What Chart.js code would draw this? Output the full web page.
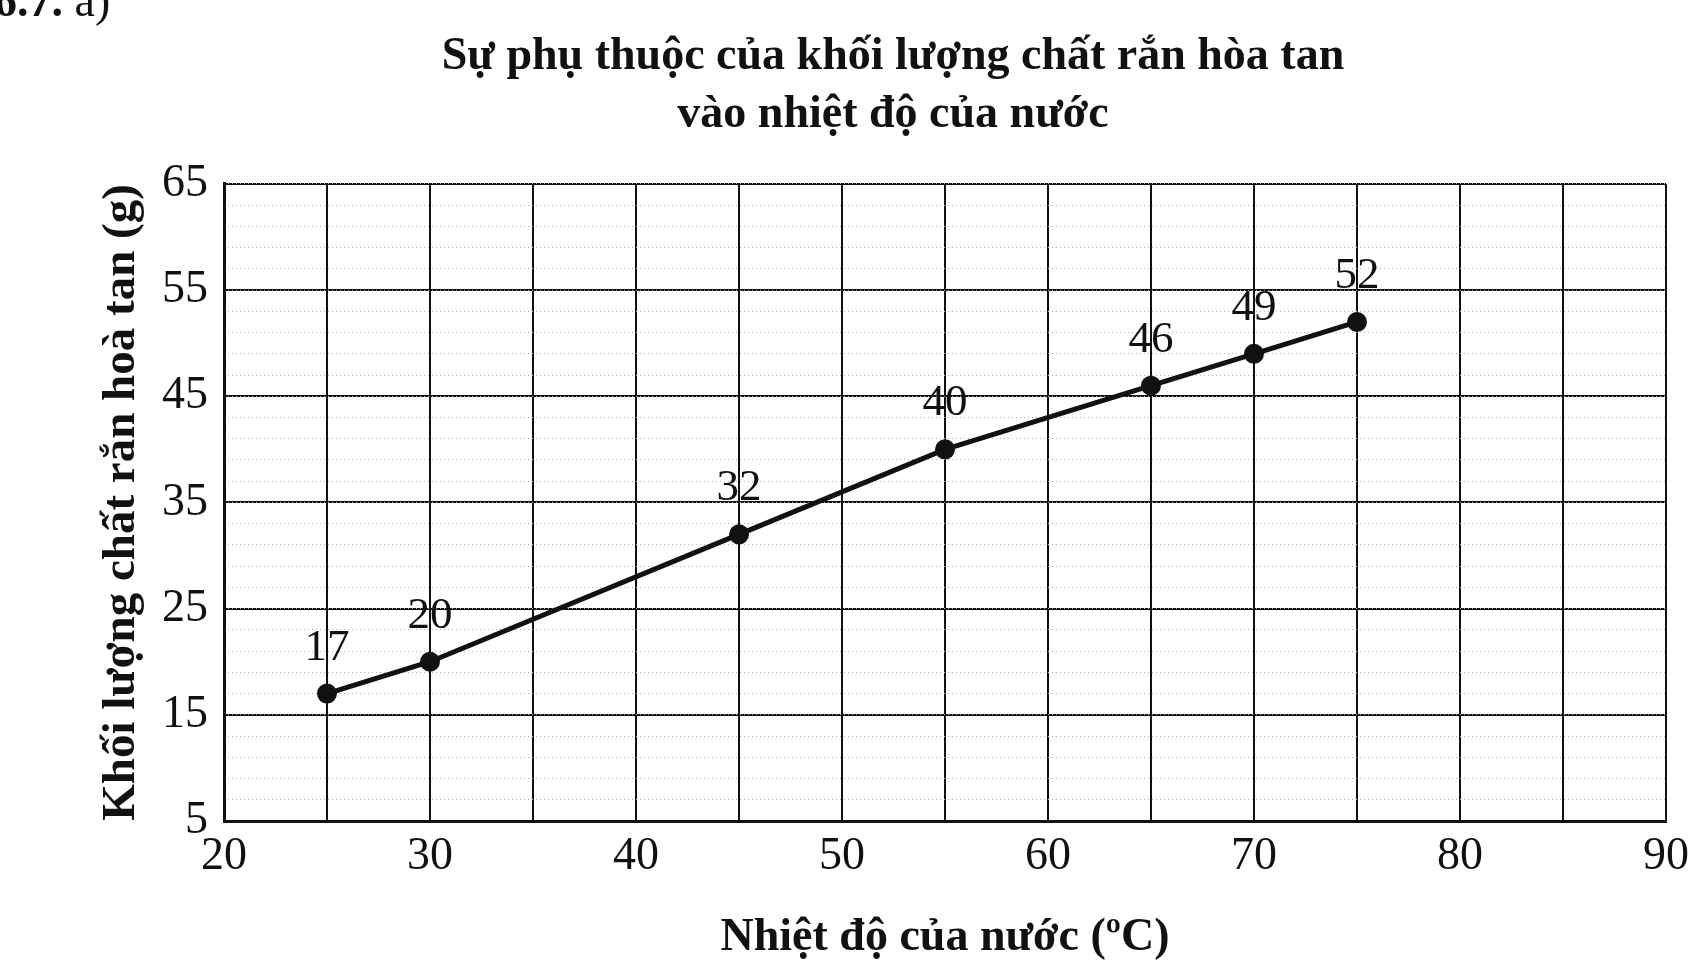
<!DOCTYPE html>
<html>
<head>
<meta charset="utf-8">
<script src="https://cdn.jsdelivr.net/npm/chart.js@4"></script>
<style>
  html, body { margin: 0; padding: 0; background: #fff; }
  #wrap { position: relative; width: 1704px; height: 972px; overflow: hidden; }
  #num { position: absolute; left: -6px; top: -26px; font: 46px "Liberation Serif", serif; color: #111; }
  #num b { font-weight: bold; }
</style>
</head>
<body>
<div id="wrap">
  <div id="num"><b>6.7.</b> a)</div>
  <canvas id="chart" width="1704" height="972"></canvas>
</div>
<script>
// số liệu
const temps = [25, 30, 45, 55, 65, 70, 75];
const mass = [17, 20, 32, 40, 46, 49, 52];
const yTickValues = [5, 15, 25, 35, 45, 55, 65];
const xMin = 20, xMax = 90;

const titleLines = ['Sự phụ thuộc của khối lượng chất rắn hòa tan', 'vào nhiệt độ của nước'];
const xTitle = 'Nhiệt độ của nước (ºC)';
const yTitle = 'Khối lượng chất rắn hoà tan (g)';

const serif = '"Liberation Serif", "Times New Roman", serif';

// nhãn số trên từng điểm
const pointLabels = {
  id: 'pointLabels',
  afterDatasetsDraw(chart) {
    const ctx = chart.ctx;
    const meta = chart.getDatasetMeta(0);
    ctx.save();
    ctx.font = '45px ' + serif;
    ctx.fillStyle = '#111';
    ctx.textAlign = 'center';
    ctx.textBaseline = 'alphabetic';
    meta.data.forEach((pt, i) => {
      ctx.fillText(String(mass[i]), pt.x, pt.y - 34);
    });
    ctx.restore();
  }
};

new Chart(document.getElementById('chart'), {
  type: 'scatter',
  data: {
    datasets: [{
      data: temps.map((t, i) => ({ x: t, y: mass[i] })),
      showLine: true,
      borderColor: '#111',
      borderWidth: 5,
      backgroundColor: '#111',
      pointRadius: 10,
      pointBorderWidth: 0,
      tension: 0
    }]
  },
  options: {
    responsive: false,
    animation: false,
    layout: { padding: { left: 120, right: 38, top: 0, bottom: 0 } },
    plugins: {
      legend: { display: false },
      tooltip: { enabled: false },
      title: {
        display: true,
        text: titleLines,
        color: '#111',
        font: { family: serif, size: 46, weight: 'bold', lineHeight: 1.26 },
        padding: { top: 28, bottom: 40 }
      }
    },
    scales: {
      x: {
        type: 'linear',
        min: xMin,
        max: xMax,
        ticks: {
          stepSize: 5,
          color: '#111',
          font: { family: serif, size: 46 },
          padding: 8,
          maxRotation: 0,
          autoSkip: false,
          callback: v => (v % 10 === 0 ? String(v) : '')
        },
        grid: { color: '#111', lineWidth: 2, drawTicks: false },
        border: { color: '#111', width: 3 },
        title: {
          display: true,
          text: xTitle,
          color: '#111',
          font: { family: serif, size: 46, weight: 'bold' },
          padding: { top: 0, bottom: 6 }
        },
        afterFit: s => { s.height = 151; }
      },
      y: {
        type: 'linear',
        position: 'left',
        min: 5,
        max: 65,
        afterBuildTicks: s => { s.ticks = yTickValues.map(v => ({ value: v })); },
        ticks: {
          color: '#111',
          font: { family: serif, size: 46 },
          padding: 16
        },
        grid: { color: '#111', lineWidth: 2, drawTicks: false },
        border: { color: '#111', width: 3 },
        title: {
          display: true,
          text: yTitle,
          color: '#111',
          font: { family: serif, size: 47, weight: 'bold' },
          padding: { top: -26, bottom: 0 }
        },
        afterFit: s => { s.width = 104; }
      },
      yMinor: {
        type: 'linear',
        position: 'left',
        min: 5,
        max: 65,
        afterBuildTicks: s => {
          const t = [];
          for (let v = 5; v <= 65; v += 2) t.push({ value: v });
          s.ticks = t;
        },
        ticks: { display: false },
        grid: { color: '#b4b4b4', lineWidth: 1, drawTicks: false },
        border: { display: false, dash: [1, 3] },
        afterFit: s => { s.width = 0; }
      }
    }
  },
  plugins: [pointLabels]
});
</script>
</body>
</html>
